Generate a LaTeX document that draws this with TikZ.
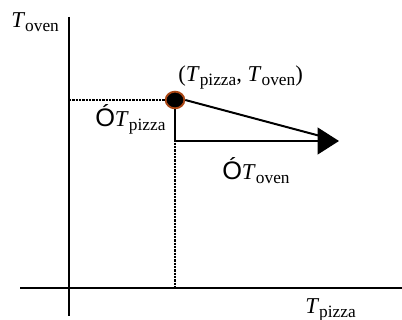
\documentclass[tikz,border=0pt]{standalone}
\usepackage{fontspec}
\setmainfont{Liberation Serif}
\newfontfamily\deltafont{Liberation Sans}
\definecolor{PtEdge}{RGB}{170,70,20}
\usepackage{tikz}
\usetikzlibrary{arrows.meta,positioning,shapes.geometric}
\newcommand{\tvar}[1]{\textit{T}\raisebox{-3pt}{\fontsize{13}{13}\selectfont #1}}
\newcommand{\dvar}[1]{{\deltafont\fontsize{19}{19}\selectfont Ó}\tvar{#1}}

\begin{document}
\begin{tikzpicture}[x=0.75pt,y=-0.75pt, every node/.style={font=\fontsize{17}{18}\selectfont,inner sep=0pt},
axis/.style={line width=1.5pt},
guide/.style={line width=2pt,dash pattern=on 1.8pt off 0.7pt},
vec/.style={line width=1.5pt},
headvec/.style={line width=1.5pt,-{Triangle[length=16pt,width=20pt]}},
point/.style={ellipse,fill=black,draw=PtEdge,line width=1.4pt,minimum width=14pt,minimum height=12.5pt}]
\useasboundingbox (0,0) rectangle (402,320);
% axes
\coordinate (xl) at (20,288);
\coordinate (xr) at (402,288);
\coordinate (yt) at (69,17);
\coordinate (yb) at (69,316);
\draw[axis] (xl)--(xr);
\draw[axis] (yt)--(yb);
% point and its guides
\node[point] (pt) at (175,100) {};
\coordinate (ylev) at (69,100);
\coordinate (xlev) at (175,288);
\coordinate (corner) at (175,141);
\coordinate (tip) at (339,141);
\draw[guide] (ylev)--(pt.west);
\draw[guide] (pt.south)--(xlev);
\draw[vec] (pt.south)--(corner);
\draw[headvec] (corner)--(tip);
\draw[vec,shorten >=6pt] (pt.east)--(tip);
% labels
\node[anchor=base west] (lyax) at (11,28) {\tvar{oven}};
\node[anchor=base west] (lxax) at (305,313) {\tvar{pizza}};
\node[anchor=base west] (lpt) at (178,82) {(\tvar{pizza}, \tvar{oven})};
\node[anchor=base west] (ldx) at (95,127) {\dvar{pizza}};
\node[anchor=base west] (ldy) at (222,179) {\dvar{oven}};
\end{tikzpicture}
\end{document}
